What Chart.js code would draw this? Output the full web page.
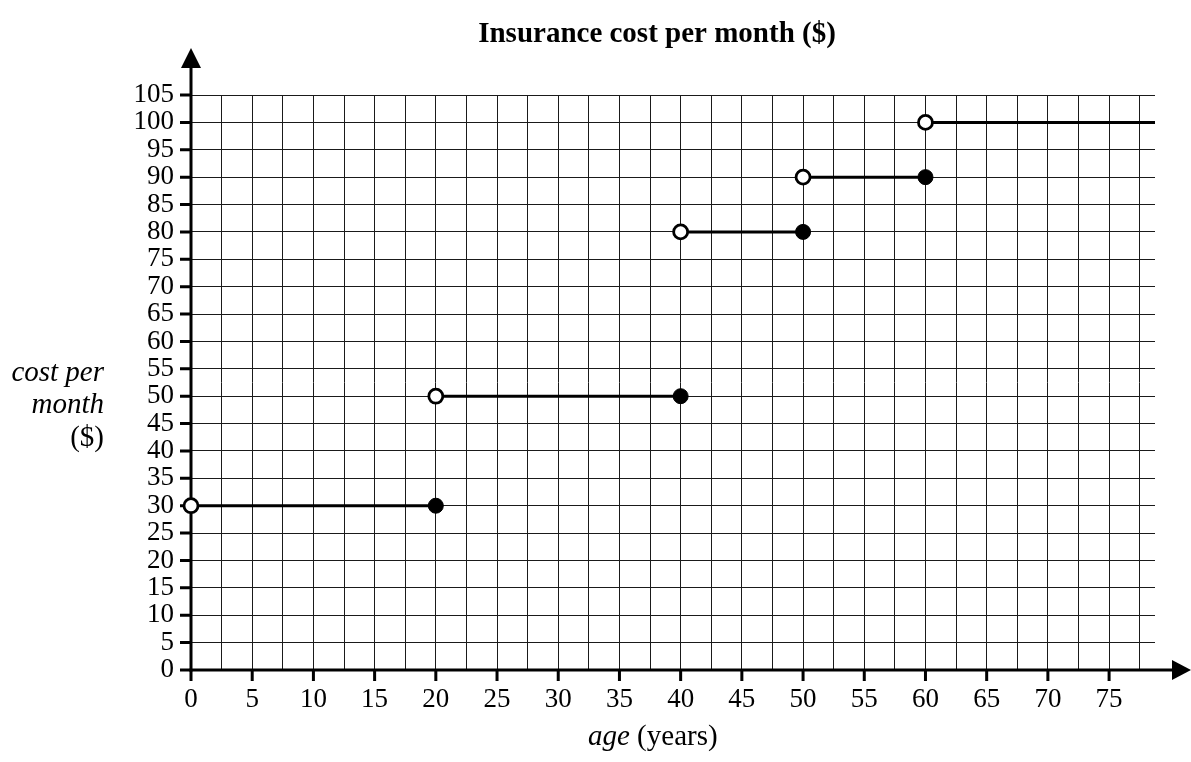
<!DOCTYPE html>
<html>
<head>
<meta charset="utf-8">
<script src="https://cdn.jsdelivr.net/npm/chart.js@4/dist/chart.umd.min.js"></script>
<style>
  html, body { margin: 0; padding: 0; background: #fff; }
  #chart { display: block; }
</style>
</head>
<body>
<canvas id="chart" width="1191" height="762"></canvas>
<script>
// step function: open circle at start age, filled circle at end age
const startAge = [0, 20, 40, 50, 60];
const endAge = [20, 40, 50, 60, 78.75];
const monthlyCost = [30, 50, 80, 90, 100];
const endClosed = [true, true, true, true, false];

const xMax = 78.75;
const yMax = 105;
const serif = '"Liberation Serif", "Times New Roman", serif';

const datasets = startAge.map((s, i) => ({
    data: [{ x: s, y: monthlyCost[i] }, { x: endAge[i], y: monthlyCost[i] }],
    borderColor: '#000',
    borderWidth: 3,
    pointRadius: [7, endClosed[i] ? 7.5 : 0],
    pointBackgroundColor: ['#fff', '#000'],
    pointBorderColor: '#000',
    pointBorderWidth: [2.8, 1],
    clip: false
}));

const axesPlugin = {
    id: 'axes',
    beforeDatasetsDraw(chart) {
        const ctx = chart.ctx;
        const x = chart.scales.x, y = chart.scales.y;
        const x0 = x.getPixelForValue(0), y0 = y.getPixelForValue(0);
        ctx.save();
        ctx.strokeStyle = '#000';
        ctx.fillStyle = '#000';
        ctx.lineWidth = 3;
        // y axis + arrow
        ctx.beginPath();
        ctx.moveTo(x0, y0 + 1.5);
        ctx.lineTo(x0, 66);
        ctx.stroke();
        ctx.beginPath();
        ctx.moveTo(x0, 48);
        ctx.lineTo(x0 - 10, 68);
        ctx.lineTo(x0 + 10, 68);
        ctx.closePath();
        ctx.fill();
        // x axis + arrow
        ctx.beginPath();
        ctx.moveTo(x0 - 1.5, y0);
        ctx.lineTo(1175, y0);
        ctx.stroke();
        ctx.beginPath();
        ctx.moveTo(1191, y0);
        ctx.lineTo(1172, y0 - 10);
        ctx.lineTo(1172, y0 + 10);
        ctx.closePath();
        ctx.fill();
        // tick marks
        ctx.beginPath();
        y.ticks.forEach(t => {
            const p = y.getPixelForValue(t.value);
            ctx.moveTo(x0 - 11, p);
            ctx.lineTo(x0, p);
        });
        x.ticks.forEach(t => {
            if (t.value % 5 !== 0) return;
            const p = x.getPixelForValue(t.value);
            ctx.moveTo(p, y0);
            ctx.lineTo(p, y0 + 11);
        });
        ctx.stroke();
        ctx.restore();
    },
    afterDraw(chart) {
        const ctx = chart.ctx;
        ctx.save();
        ctx.fillStyle = '#000';
        ctx.textBaseline = 'alphabetic';
        // title
        ctx.font = 'bold 29px ' + serif;
        ctx.textAlign = 'center';
        ctx.fillText('Insurance cost per month ($)', 657, 42);
        // y label
        ctx.textAlign = 'right';
        ctx.font = 'italic 29px ' + serif;
        ctx.fillText('cost per', 104, 381);
        ctx.fillText('month', 104, 413);
        ctx.font = '29px ' + serif;
        ctx.fillText('($)', 104, 446);
        // x label
        ctx.textAlign = 'left';
        ctx.font = 'italic 29px ' + serif;
        const ageW = ctx.measureText('age').width;
        ctx.fillText('age', 588, 745);
        ctx.font = '29px ' + serif;
        ctx.fillText(' (years)', 588 + ageW, 745);
        ctx.restore();
    }
};

new Chart(document.getElementById('chart'), {
    type: 'line',
    data: { datasets: datasets },
    options: {
        responsive: false,
        animation: false,
        devicePixelRatio: 1,
        layout: { padding: { left: 0, top: 95, right: 36, bottom: 0 } },
        plugins: {
            legend: { display: false },
            tooltip: { enabled: false }
        },
        scales: {
            x: {
                type: 'linear',
                min: 0,
                max: xMax,
                afterFit: s => { s.height = 92; },
                border: { display: false },
                grid: { color: '#1a1a1a', lineWidth: 1, drawTicks: false },
                ticks: {
                    stepSize: 2.5,
                    includeBounds: false,
                    autoSkip: false,
                    maxRotation: 0,
                    padding: 14,
                    color: '#000',
                    font: { family: serif, size: 27 },
                    callback: v => (v % 5 === 0 ? v : '')
                }
            },
            y: {
                min: 0,
                max: yMax,
                afterFit: s => { s.width = 191; },
                border: { display: false },
                grid: { color: '#1a1a1a', lineWidth: 1, drawTicks: false },
                ticks: {
                    stepSize: 5,
                    autoSkip: false,
                    padding: 17,
                    color: '#000',
                    font: { family: serif, size: 27 }
                }
            }
        }
    },
    plugins: [axesPlugin]
});
</script>
</body>
</html>
